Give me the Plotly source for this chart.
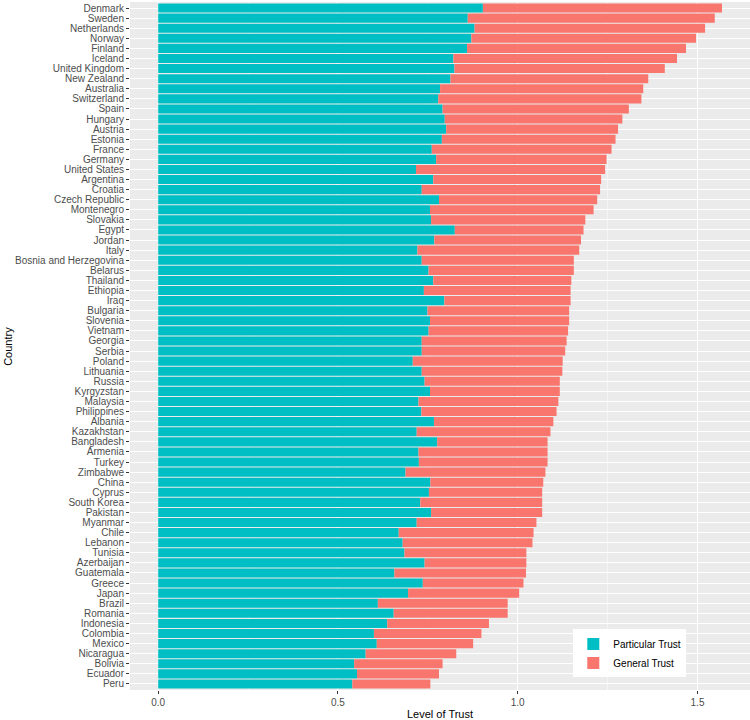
import plotly.graph_objects as go

countries = ["Denmark", "Sweden", "Netherlands", "Norway", "Finland", "Iceland", "United Kingdom",
             "New Zealand", "Australia", "Switzerland", "Spain", "Hungary", "Austria", "Estonia",
             "France", "Germany", "United States", "Argentina", "Croatia", "Czech Republic",
             "Montenegro", "Slovakia", "Egypt", "Jordan", "Italy", "Bosnia and Herzegovina",
             "Belarus", "Thailand", "Ethiopia", "Iraq", "Bulgaria", "Slovenia", "Vietnam",
             "Georgia", "Serbia", "Poland", "Lithuania", "Russia", "Kyrgyzstan", "Malaysia",
             "Philippines", "Albania", "Kazakhstan", "Bangladesh", "Armenia", "Turkey",
             "Zimbabwe", "China", "Cyprus", "South Korea", "Pakistan", "Myanmar", "Chile",
             "Lebanon", "Tunisia", "Azerbaijan", "Guatemala", "Greece", "Japan", "Brazil",
             "Romania", "Indonesia", "Colombia", "Mexico", "Nicaragua", "Bolivia", "Ecuador", "Peru"]

particular_trust = [0.903, 0.861, 0.880, 0.871, 0.859, 0.821, 0.824, 0.813, 0.784, 0.779,
                    0.791, 0.797, 0.801, 0.789, 0.761, 0.773, 0.717, 0.765, 0.733, 0.781,
                    0.756, 0.759, 0.825, 0.768, 0.721, 0.733, 0.752, 0.765, 0.739, 0.796,
                    0.749, 0.756, 0.752, 0.733, 0.733, 0.708, 0.733, 0.741, 0.756, 0.724,
                    0.732, 0.767, 0.719, 0.776, 0.724, 0.725, 0.688, 0.757, 0.753, 0.729,
                    0.759, 0.719, 0.669, 0.680, 0.685, 0.741, 0.657, 0.736, 0.695, 0.611,
                    0.655, 0.637, 0.600, 0.608, 0.577, 0.545, 0.553, 0.540]

total_trust = [1.568, 1.548, 1.521, 1.496, 1.468, 1.443, 1.409, 1.363, 1.349, 1.344,
               1.309, 1.291, 1.279, 1.272, 1.261, 1.247, 1.243, 1.232, 1.229, 1.221,
               1.211, 1.188, 1.183, 1.176, 1.171, 1.156, 1.156, 1.149, 1.147, 1.147,
               1.143, 1.143, 1.140, 1.136, 1.132, 1.125, 1.124, 1.117, 1.117, 1.113,
               1.108, 1.099, 1.091, 1.083, 1.083, 1.083, 1.077, 1.071, 1.068, 1.068,
               1.068, 1.052, 1.044, 1.041, 1.024, 1.024, 1.023, 1.016, 1.004, 0.972,
               0.972, 0.920, 0.899, 0.876, 0.829, 0.791, 0.781, 0.757]

general_trust = [round(t - p, 3) for t, p in zip(total_trust, particular_trust)]

x_ticks = [0.0, 0.5, 1.0, 1.5]
x_tick_labels = ["0.0", "0.5", "1.0", "1.5"]

font_family = "Liberation Sans, Arial, sans-serif"

fig = go.Figure()
fig.add_trace(go.Bar(y=countries, x=particular_trust, orientation="h", name="Particular Trust",
                     marker=dict(color="#00BFC4", line=dict(width=0)), width=0.9))
fig.add_trace(go.Bar(y=countries, x=general_trust, orientation="h", name="General Trust",
                     base=particular_trust,
                     marker=dict(color="#F8766D", line=dict(width=0)), width=0.9))

fig.update_layout(
    barmode="overlay",
    width=750, height=720,
    margin=dict(l=130, r=0, t=2, b=30),
    plot_bgcolor="#EBEBEB",
    paper_bgcolor="white",
    font=dict(family=font_family, size=10, color="#4D4D4D"),
    showlegend=True,
    legend=dict(x=0.715, y=0.088, xanchor="left", yanchor="top", bgcolor="white",
                font=dict(size=10, color="black"), traceorder="normal",
                itemsizing="constant", itemwidth=30),
    xaxis=dict(range=[-0.0784, 1.646], tickvals=x_ticks, ticktext=x_tick_labels,
               showgrid=True, gridcolor="white", gridwidth=1.1, zeroline=False,
               ticks="outside", ticklen=3, tickcolor="#333333",
               tickfont=dict(size=10, color="#4D4D4D"),
               minor=dict(tickvals=[0.25, 0.75, 1.25], showgrid=True, gridcolor="#F5F5F5",
                          gridwidth=0.6, ticks="")),
    yaxis=dict(range=[len(countries) - 0.4, -0.6], tickmode="array", tickvals=countries,
               ticktext=countries, showgrid=True, gridcolor="white",
               gridwidth=1.1, ticks="outside", ticklen=3, tickcolor="#333333",
               tickfont=dict(size=10, color="#4D4D4D"), automargin=False),
    annotations=[
        dict(text="Level of Trust", x=0.5, y=-0.035, xref="paper", yref="paper",
             showarrow=False, font=dict(size=11, color="black"), xanchor="center", yanchor="middle"),
        dict(text="Country", x=-0.197, y=0.5, xref="paper", yref="paper", textangle=-90,
             showarrow=False, font=dict(size=11, color="black"), xanchor="center", yanchor="middle"),
    ],
)

fig.write_html("out.html", config={"displayModeBar": False},
               post_script="document.body.style.margin='0';")
